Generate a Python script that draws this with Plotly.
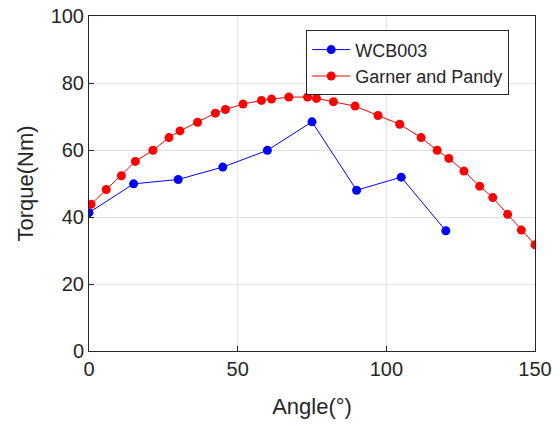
import plotly.graph_objects as go

wcb_angle = [0, 15, 30, 45, 60, 75, 90, 105, 120]
wcb_torque = [41.3, 49.9, 51.2, 54.9, 59.9, 68.4, 48.0, 51.9, 35.9]

gp_angle = [0.7, 5.8, 10.9, 15.6, 21.5, 26.9, 30.6, 36.5, 42.5, 45.9, 51.8, 58.0,
            61.4, 67.2, 73.5, 76.5, 82.2, 89.5, 97.2, 104.5, 111.7, 117.1, 121.0,
            126.1, 131.4, 135.8, 140.8, 145.4, 150.0]
gp_torque = [43.8, 48.2, 52.3, 56.6, 59.9, 63.7, 65.7, 68.3, 71.0, 72.1, 73.7, 74.8,
             75.2, 75.8, 75.8, 75.4, 74.4, 73.1, 70.3, 67.7, 63.7, 59.9, 57.5,
             53.7, 49.2, 45.8, 40.8, 36.1, 31.7]

fig = go.Figure()
fig.add_trace(go.Scatter(x=wcb_angle, y=wcb_torque, mode="lines+markers", name="WCB003",
                         line=dict(color="#0000ff", width=1),
                         marker=dict(color="#0000ff", size=9)))
fig.add_trace(go.Scatter(x=gp_angle, y=gp_torque, mode="lines+markers", name="Garner and Pandy",
                         line=dict(color="#ff0000", width=1),
                         marker=dict(color="#ff0000", size=9)))

axis_common = dict(showline=True, linecolor="#262626", linewidth=1, mirror=True,
                   ticks="inside", ticklen=5, tickcolor="#262626",
                   showgrid=True, gridcolor="#e3e3e3", gridwidth=1, zeroline=False,
                   automargin=False, ticklabeloverflow="allow",
                   tickfont=dict(size=20, color="#262626"))

fig.update_layout(
    width=560, height=424,
    margin=dict(l=89, r=25, t=16, b=73),
    paper_bgcolor="white", plot_bgcolor="white",
    font=dict(family="Liberation Sans, Arial, sans-serif", color="#262626"),
    xaxis=dict(range=[0, 150], tickvals=[0, 50, 100, 150],
               title=dict(text="Angle(°)", font=dict(size=22), standoff=19), **axis_common),
    yaxis=dict(range=[0, 100], tickvals=[0, 20, 40, 60, 80, 100],
               title=dict(text="Torque(Nm)", font=dict(size=22), standoff=10), **axis_common),
    legend=dict(x=0.487, y=0.957, xanchor="left", yanchor="top",
                bgcolor="white", bordercolor="#262626", borderwidth=1,
                font=dict(size=18, color="#262626"), tracegroupgap=0,
                itemwidth=38),
    showlegend=True,
)

fig.write_html("out.html", config={"displayModeBar": False},
               post_script="document.body.style.margin='0';document.body.style.padding='0';")
